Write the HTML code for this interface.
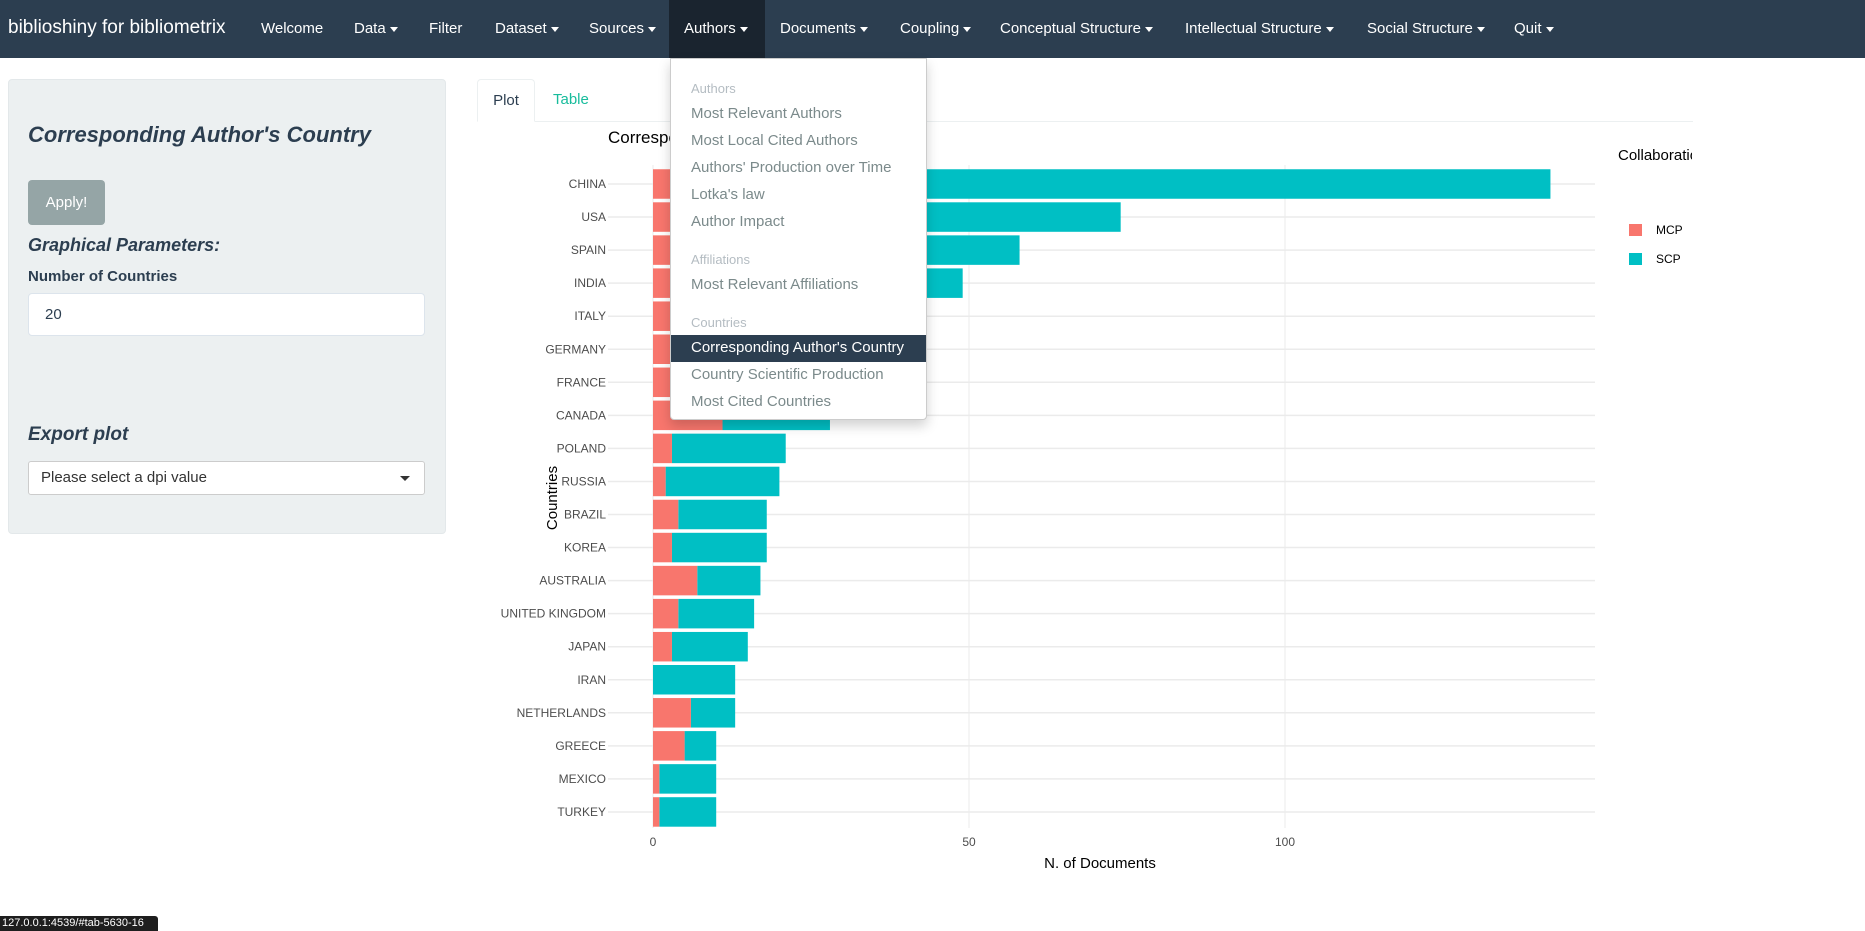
<!DOCTYPE html>
<html><head><meta charset="utf-8"><style>
*{box-sizing:border-box;margin:0;padding:0}
body{width:1865px;height:931px;overflow:hidden;background:#fff;font-family:"Liberation Sans",sans-serif;position:relative}
.nav{position:absolute;left:0;top:0;width:1865px;height:58px;background:#2c3e50}
.nav span{position:absolute;top:20px;color:#fff;font-size:15px;white-space:nowrap}
.caret{display:inline-block;width:0;height:0;border-left:4px solid transparent;border-right:4px solid transparent;border-top:5px solid #fff;vertical-align:middle;margin-left:4px}
.side{position:absolute;left:8px;top:79px;width:438px;height:455px;background:#ecf0f1;border-radius:4px;border:1px solid #e3e8ea}
.abs{position:absolute;white-space:nowrap}
.dd{position:absolute;left:670px;top:58px;width:257px;height:362px;background:#fff;border:1px solid #ccc;box-shadow:0 6px 12px rgba(0,0,0,.18);border-radius:0 0 4px 4px}
.dd div{position:absolute;left:20px;font-size:15px;color:#7b8a8b;white-space:nowrap}
.dd .h{font-size:13px;color:#b4bcc2}
</style></head><body>
<div class="nav">
<span style="left:8px;top:17px;font-size:19px">biblioshiny for bibliometrix</span>
<span style="left:261px">Welcome</span>
<span style="left:354px">Data<i class="caret"></i></span>
<span style="left:429px">Filter</span>
<span style="left:495px">Dataset<i class="caret"></i></span>
<span style="left:589px">Sources<i class="caret"></i></span>
<div style="position:absolute;left:669px;top:0;width:96px;height:58px;background:#1a242f"></div>
<span style="left:684px">Authors<i class="caret"></i></span>
<span style="left:780px">Documents<i class="caret"></i></span>
<span style="left:900px">Coupling<i class="caret"></i></span>
<span style="left:1000px">Conceptual Structure<i class="caret"></i></span>
<span style="left:1185px">Intellectual Structure<i class="caret"></i></span>
<span style="left:1367px">Social Structure<i class="caret"></i></span>
<span style="left:1514px">Quit<i class="caret"></i></span>
</div>
<div class="side"></div>
<div class="abs" style="left:28px;top:122px;font-size:22px;font-style:italic;font-weight:600;color:#2c3e50">Corresponding Author's Country</div>
<div class="abs" style="left:28px;top:180px;width:77px;height:45px;background:#95a5a6;color:#fff;border-radius:4px;font-size:15px;line-height:45px;text-align:center">Apply!</div>
<div class="abs" style="left:28px;top:235px;font-size:18px;font-style:italic;font-weight:bold;color:#2c3e50">Graphical Parameters:</div>
<div class="abs" style="left:28px;top:268px;font-size:15px;font-weight:bold;color:#2c3e50">Number of Countries</div>
<div class="abs" style="left:28px;top:293px;width:397px;height:43px;background:#fff;border:1px solid #dce4ec;border-radius:4px;font-size:15px;line-height:41px;padding-left:16px;color:#2c3e50">20</div>
<div class="abs" style="left:28px;top:424px;font-size:19px;font-style:italic;font-weight:bold;color:#2c3e50">Export plot</div>
<div class="abs" style="left:28px;top:461px;width:397px;height:34px;background:#fff;border:1px solid #ccc;border-radius:3px;font-size:15px;line-height:32px;padding-left:12px;color:#333">Please select a dpi value<i style="position:absolute;right:14px;top:14px;border-left:5px solid transparent;border-right:5px solid transparent;border-top:5px solid #333"></i></div>
<div class="abs" style="left:477px;top:121px;width:1216px;height:1px;background:#ecf0f1"></div>
<div class="abs" style="left:477px;top:79px;width:58px;height:43px;border:1px solid #ecf0f1;border-bottom:1px solid #fff;border-radius:4px 4px 0 0;background:#fff;font-size:15px;line-height:42px;text-align:center;color:#2c3e50">Plot</div>
<div class="abs" style="left:553px;top:91px;font-size:15px;color:#18bc9c">Table</div>

<svg id="chart" style="position:absolute;left:0;top:0" width="1865" height="931"></svg>

<div class="dd">
<div class="h" style="top:22px">Authors</div>
<div style="top:46px">Most Relevant Authors</div>
<div style="top:73px">Most Local Cited Authors</div>
<div style="top:100px">Authors' Production over Time</div>
<div style="top:127px">Lotka's law</div>
<div style="top:154px">Author Impact</div>
<div class="h" style="top:193px">Affiliations</div>
<div style="top:217px">Most Relevant Affiliations</div>
<div class="h" style="top:256px">Countries</div>
<div style="left:0;top:276px;width:255px;height:27px;background:#2c3e50"></div>
<div style="top:280px;color:#fff">Corresponding Author's Country</div>
<div style="top:307px">Country Scientific Production</div>
<div style="top:334px">Most Cited Countries</div>
</div>
<div class="abs" style="left:0;top:916px;width:158px;height:15px;background:#1e1e1e;color:#fff;font-size:11px;line-height:15px;padding-left:2px;border-radius:0 3px 0 0">127.0.0.1:4539/#tab-5630-16</div>

<script>
const countries=["CHINA","USA","SPAIN","INDIA","ITALY","GERMANY","FRANCE","CANADA","POLAND","RUSSIA","BRAZIL","KOREA","AUSTRALIA","UNITED KINGDOM","JAPAN","IRAN","NETHERLANDS","GREECE","MEXICO","TURKEY"];
const mcp=[10,12,8,4,9,10,8,11,3,2,4,3,7,4,3,0,6,5,1,1];
const total=[142,74,58,49,40,36,33,28,21,20,18,18,17,16,15,13,13,10,10,10];
const xTicks=[0,50,100];
const NS="http://www.w3.org/2000/svg";
const svg=document.getElementById('chart');
const x0=653,pxPer=6.32,y0=184,step=33.05,bh=29.5,gx1=608,gx2=1595;
const X=v=>x0+v*pxPer, Y=i=>y0+i*step;
function mk(t,a,txt){const e=document.createElementNS(NS,t);for(const k in a)e.setAttribute(k,a[k]);if(txt!=null)e.textContent=txt;svg.appendChild(e);return e;}
xTicks.forEach(t=>{
 const g=mk('line',{x1:X(t),x2:X(t),y1:165,y2:828,stroke:'#ebebeb','stroke-width':1});
 
 
 const l=mk('text',{x:X(t),y:846,'font-size':12,fill:'#4d4d4d','text-anchor':'middle'},t);
 
 
});
countries.forEach((c,i)=>{
 const y=Y(i);
 const g=mk('line',{x1:gx1,x2:gx2,y1:y,y2:y,stroke:'#ebebeb','stroke-width':1.5});
 
 
 const l=mk('text',{x:606,y:y+4,'font-size':12,fill:'#4d4d4d','text-anchor':'end'},c);
 
 
 const s=mk('rect',{x:X(mcp[i]),y:y-bh/2,width:(total[i]-mcp[i])*pxPer,height:bh,fill:'#00BFC4'});
 
 
 const m=mk('rect',{x:X(0),y:y-bh/2,width:mcp[i]*pxPer,height:bh,fill:'#F8766D'});
 
 
});
let e;
e=mk('text',{x:608,y:143,'font-size':17,fill:'#000'},"Corresponding Author's Country");


e=mk('text',{x:1100,y:868,'font-size':15,fill:'#000','text-anchor':'middle'},'N. of Documents');


e=mk('text',{x:0,y:0,'font-size':15,fill:'#000','text-anchor':'middle',transform:'translate(557,498) rotate(-90)'},'Countries');


const clip=mk('clipPath',{id:'lc'});
const cr=document.createElementNS(NS,'rect');
cr.setAttribute('x',1600);cr.setAttribute('y',130);cr.setAttribute('width',92);cr.setAttribute('height',40);
clip.appendChild(cr);
e=mk('text',{x:1618,y:160,'font-size':15,fill:'#000','clip-path':'url(#lc)'},'Collaboration');


[['MCP','#F8766D',230],['SCP','#00BFC4',259]].forEach(([n,c,y])=>{
 const r=mk('rect',{x:1629,y:y-6,width:13,height:12,fill:c});
 
 
 const t=mk('text',{x:1656,y:y+4,'font-size':12,fill:'#000'},n);
 
 
});
</script>
</body></html>
